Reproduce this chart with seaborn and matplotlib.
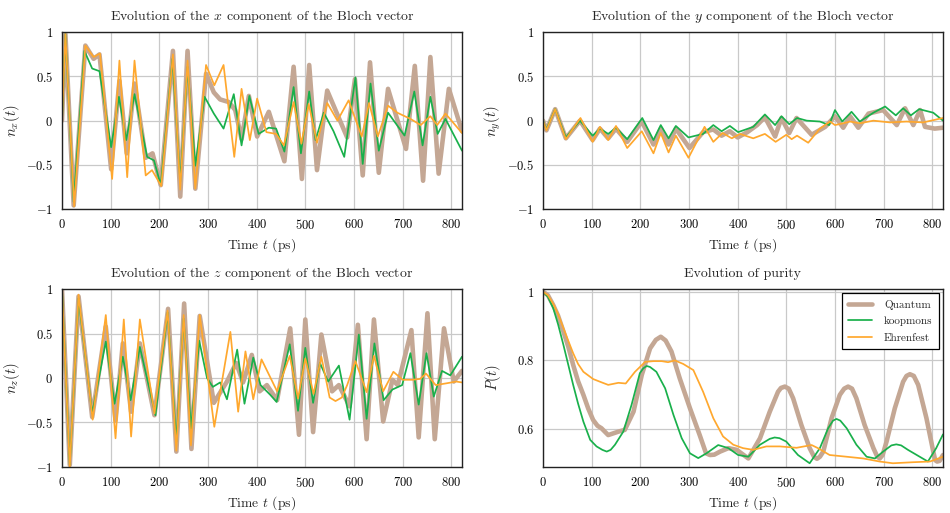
import matplotlib
matplotlib.use('Agg')
import matplotlib.pyplot as plt
import seaborn as sns
import pandas as pd

# ---- data (time in ps) ----
# n_x component
nx_quantum_t = [0, 7, 24, 48, 65, 77, 101, 118, 133, 149, 172, 186, 203, 228, 243, 258, 274, 296, 312, 325,
                343, 356, 369, 384, 401, 425, 457, 476, 493, 508, 524, 545, 586, 602, 618, 633, 651, 670,
                707, 725, 742, 757, 774, 795, 822]
nx_quantum_v = [0, 0.98, -0.96, 0.85, 0.70, 0.75, -0.55, 0.45, -0.37, 0.42, -0.42, -0.37, -0.73, 0.79, -0.86,
                0.79, -0.77, 0.53, 0.32, 0.24, 0.21, 0.12, -0.21, 0.28, -0.18, 0.10, -0.46, 0.61, -0.66, 0.63,
                -0.56, 0.34, -0.19, 0.47, -0.62, 0.66, -0.59, 0.36, -0.32, 0.62, -0.68, 0.72, -0.60, 0.36, -0.12]
nx_koop_t = [0, 7, 24, 46, 62, 77, 101, 117, 132, 149, 175, 189, 203, 227, 243, 258, 274, 293, 312, 332, 353,
             369, 385, 404, 425, 440, 457, 476, 491, 508, 521, 538, 558, 580, 603, 618, 634, 651, 670, 704,
             724, 741, 757, 772, 788, 822]
nx_koop_v = [0, 0.98, -0.92, 0.79, 0.59, 0.56, -0.30, 0.27, -0.22, 0.30, -0.41, -0.45, -0.73, 0.70, -0.69,
             0.61, -0.51, 0.27, 0.08, -0.09, 0.30, -0.28, 0.28, -0.15, -0.08, -0.09, -0.35, 0.38, -0.37, 0.33,
             -0.22, 0.09, -0.12, -0.41, 0.49, -0.49, 0.42, -0.34, 0.09, -0.17, 0.33, -0.28, 0.27, -0.15, 0.02,
             -0.34]
nx_ehr_t = [0, 7, 25, 48, 65, 78, 103, 118, 134, 149, 172, 185, 204, 228, 243, 258, 274, 296, 313, 332, 354,
            369, 386, 401, 420, 440, 456, 476, 492, 507, 524, 545, 566, 589, 616, 631, 649, 670, 689, 716, 737,
            757, 771, 788, 822]
nx_ehr_v = [0, 0.98, -0.97, 0.85, 0.72, 0.76, -0.66, 0.68, -0.64, 0.68, -0.62, -0.56, -0.74, 0.75, -0.78,
            0.68, -0.77, 0.63, 0.40, 0.63, -0.41, 0.36, -0.22, 0.25, -0.13, -0.15, -0.28, 0.21, -0.26, 0.19,
            -0.25, 0.20, 0.0, 0.23, -0.18, 0.20, -0.18, 0.17, 0.09, 0.02, -0.05, 0.05, -0.05, 0.08, -0.14]

# n_y component
ny_quantum_t = [0, 7, 25, 47, 76, 102, 117, 134, 150, 173, 203, 227, 242, 258, 273, 301, 329, 350, 367, 384,
                400, 420, 440, 456, 477, 490, 506, 521, 552, 580, 600, 617, 631, 648, 669, 699, 727, 744, 761,
                775, 785, 805, 822]
ny_quantum_v = [0, -0.11, 0.13, -0.20, 0.0, -0.22, -0.09, -0.20, -0.09, -0.24, -0.01, -0.27, -0.09, -0.27,
                -0.09, -0.31, -0.13, -0.10, -0.17, -0.12, -0.19, -0.13, -0.05, 0.04, -0.18, 0.03, -0.14, 0.03,
                -0.16, -0.07, 0.05, -0.08, 0.05, -0.08, 0.08, 0.12, -0.05, 0.14, -0.05, 0.12, -0.07, -0.09,
                -0.08]
ny_koop_t = [0, 7, 25, 47, 76, 102, 117, 134, 150, 173, 204, 227, 242, 258, 273, 299, 329, 350, 367, 384, 401,
             432, 456, 477, 490, 506, 522, 542, 569, 588, 600, 615, 634, 651, 679, 703, 725, 740, 756, 773, 802,
             822]
ny_koop_v = [0, -0.10, 0.13, -0.19, 0.0, -0.17, -0.09, -0.15, -0.08, -0.21, 0.03, -0.22, -0.05, -0.20, -0.06,
             -0.19, -0.15, -0.05, -0.12, -0.06, -0.13, -0.07, 0.07, -0.05, 0.05, -0.04, 0.03, 0.0, -0.01, -0.05,
             0.12, -0.01, 0.10, -0.01, 0.09, 0.16, 0.06, 0.14, 0.06, 0.13, 0.09, 0.0]
ny_ehr_t = [0, 7, 25, 47, 77, 102, 117, 134, 150, 173, 203, 227, 242, 258, 273, 299, 316, 332, 350, 369, 388,
            405, 432, 456, 478, 500, 511, 522, 545, 569, 590, 600, 617, 631, 651, 679, 713, 747, 781, 822]
ny_ehr_v = [0, -0.11, 0.13, -0.21, 0.03, -0.24, -0.07, -0.22, -0.06, -0.31, -0.12, -0.37, -0.14, -0.36, -0.17,
            -0.42, -0.24, -0.07, -0.24, -0.14, -0.20, -0.15, -0.20, -0.15, -0.24, -0.16, -0.21, -0.17, -0.25,
            -0.09, -0.01, -0.05, -0.03, -0.01, -0.03, 0.0, -0.02, -0.01, -0.02, 0.03]

# n_z component
nz_quantum_t = [0, 16, 34, 62, 90, 110, 125, 142, 160, 190, 218, 235, 251, 266, 283, 312, 339, 358, 372, 390,
                406, 421, 442, 469, 487, 500, 516, 533, 555, 569, 591, 608, 626, 641, 660, 679, 690, 718, 733,
                751, 766, 785, 805, 822]
nz_quantum_v = [1.0, -0.98, 0.92, -0.44, 0.58, -0.48, 0.39, -0.38, 0.39, -0.42, 0.78, -0.83, 0.84, -0.80, 0.70,
                -0.28, -0.04, 0.17, -0.05, 0.26, -0.15, -0.08, -0.25, 0.56, -0.64, 0.66, -0.61, 0.49, -0.15,
                -0.08, -0.32, 0.60, -0.69, 0.66, -0.49, -0.02, -0.08, 0.54, -0.67, 0.73, -0.69, 0.56, -0.04, 0.08]
nz_koop_t = [0, 16, 34, 62, 90, 108, 125, 141, 160, 192, 217, 235, 250, 265, 282, 298, 310, 325, 339, 360, 375,
             393, 408, 428, 441, 468, 485, 500, 516, 530, 547, 569, 591, 610, 626, 642, 661, 679, 699, 716, 733,
             749, 764, 781, 798, 822]
nz_koop_v = [1.0, -0.98, 0.90, -0.40, 0.41, -0.29, 0.24, -0.25, 0.35, -0.42, 0.74, -0.72, 0.67, -0.57, 0.42,
             0.0, -0.10, -0.05, -0.24, 0.32, -0.29, 0.23, -0.08, -0.19, -0.27, 0.38, -0.37, 0.34, -0.28, 0.17,
             -0.04, 0.14, -0.47, 0.49, -0.46, 0.39, -0.25, -0.13, -0.08, 0.28, -0.30, 0.28, -0.21, 0.08, 0.03,
             0.24]
nz_ehr_t = [0, 16, 34, 63, 90, 110, 127, 142, 160, 190, 217, 235, 250, 265, 283, 313, 346, 362, 377, 393, 410,
            442, 468, 485, 500, 517, 533, 550, 562, 575, 586, 603, 626, 641, 660, 681, 700, 720, 736, 748, 768,
            790, 810, 822]
nz_ehr_v = [1.0, -1.0, 0.94, -0.47, 0.71, -0.68, 0.66, -0.66, 0.66, -0.40, 0.76, -0.82, 0.71, -0.76, 0.71,
            -0.55, 0.52, -0.38, 0.30, -0.24, 0.21, -0.15, 0.25, -0.23, 0.22, -0.18, 0.24, -0.22, -0.26, -0.22,
            -0.08, 0.19, -0.16, 0.25, -0.15, 0.07, -0.02, -0.02, -0.01, 0.05, -0.08, -0.06, -0.04, -0.05]

# purity
p_quantum_t = [0, 10, 21, 31, 42, 52, 62, 72, 83, 93, 103, 112, 120, 134, 155, 168, 186, 203, 220, 232, 242,
               252, 264, 281, 302, 322, 335, 343, 352, 364, 381, 398, 422, 446, 466, 483, 489, 497, 505, 514,
               531, 548, 557, 563, 569, 576, 593, 610, 619, 627, 635, 644, 661, 679, 687, 692, 698, 706, 723,
               740, 747, 754, 762, 771, 788, 802, 806, 810, 815, 822]
p_quantum_v = [1.0, 0.99, 0.961, 0.93, 0.884, 0.84, 0.787, 0.74, 0.70, 0.66, 0.627, 0.61, 0.603, 0.583, 0.593,
               0.598, 0.651, 0.758, 0.835, 0.86, 0.869, 0.858, 0.826, 0.748, 0.661, 0.583, 0.53, 0.525, 0.526,
               0.535, 0.545, 0.540, 0.515, 0.574, 0.651, 0.709, 0.72, 0.724, 0.718, 0.69, 0.612, 0.545, 0.52,
               0.514, 0.52, 0.535, 0.632, 0.70, 0.718, 0.724, 0.718, 0.69, 0.612, 0.545, 0.52, 0.515, 0.525,
               0.564, 0.661, 0.738, 0.755, 0.76, 0.755, 0.729, 0.632, 0.535, 0.51, 0.506, 0.508, 0.525]
p_koop_t = [0, 10, 21, 31, 42, 52, 62, 72, 83, 97, 110, 122, 131, 139, 148, 165, 182, 199, 206, 213, 220, 233,
            251, 268, 285, 302, 319, 336, 360, 381, 401, 422, 446, 466, 476, 486, 500, 524, 548, 569, 586, 596,
            603, 611, 624, 644, 665, 682, 699, 716, 726, 736, 750, 791, 808, 822]
p_koop_v = [1.0, 0.985, 0.952, 0.905, 0.845, 0.787, 0.729, 0.675, 0.622, 0.569, 0.55, 0.54, 0.535, 0.54, 0.555,
            0.593, 0.671, 0.763, 0.777, 0.784, 0.781, 0.767, 0.719, 0.642, 0.574, 0.53, 0.516, 0.53, 0.554,
            0.545, 0.525, 0.52, 0.555, 0.572, 0.576, 0.574, 0.564, 0.525, 0.501, 0.545, 0.603, 0.625, 0.63,
            0.625, 0.603, 0.555, 0.52, 0.515, 0.535, 0.553, 0.556, 0.553, 0.54, 0.506, 0.545, 0.585]
p_ehr_t = [0, 10, 21, 31, 42, 52, 62, 72, 83, 103, 121, 134, 155, 170, 189, 210, 227, 244, 257, 271, 288, 309,
           329, 350, 370, 391, 411, 432, 459, 487, 521, 552, 565, 589, 624, 658, 692, 719, 760, 795, 822]
p_ehr_v = [1.0, 0.99, 0.965, 0.935, 0.894, 0.857, 0.821, 0.79, 0.767, 0.746, 0.736, 0.729, 0.735, 0.733, 0.767,
           0.796, 0.798, 0.798, 0.795, 0.80, 0.79, 0.772, 0.709, 0.632, 0.579, 0.555, 0.545, 0.54, 0.55, 0.55,
           0.546, 0.554, 0.545, 0.525, 0.52, 0.515, 0.506, 0.501, 0.504, 0.506, 0.52]

methods = ['Quantum', 'koopmons', 'Ehrenfest']
colors = {'Quantum': '#C4A794', 'koopmons': '#19B04B', 'Ehrenfest': '#FFA82E'}
widths = {'Quantum': 3.3, 'koopmons': 1.25, 'Ehrenfest': 1.25}

sns.set_style('whitegrid', rc={'grid.color': '#C9C9C9', 'axes.edgecolor': '#222222'})
plt.rcParams['font.family'] = ['cmr10', 'DejaVu Serif']
plt.rcParams['mathtext.fontset'] = 'cm'
plt.rcParams['axes.unicode_minus'] = False
plt.rcParams['lines.solid_joinstyle'] = 'round'
plt.rcParams['lines.solid_capstyle'] = 'round'

fig = plt.figure(figsize=(9.5, 5.13), dpi=100)
W, H = 950, 513


def make_ax(left, top, right, bottom):
    return fig.add_axes([left / W, 1 - bottom / H, (right - left) / W, (bottom - top) / H])


panels = [
    (make_ax(62, 32.3, 462, 209), 'Evolution of the $x$ component of the Bloch vector', '$n_x(t)$',
     [(nx_quantum_t, nx_quantum_v), (nx_koop_t, nx_koop_v), (nx_ehr_t, nx_ehr_v)]),
    (make_ax(543, 32.3, 943, 209), 'Evolution of the $y$ component of the Bloch vector', '$n_y(t)$',
     [(ny_quantum_t, ny_quantum_v), (ny_koop_t, ny_koop_v), (ny_ehr_t, ny_ehr_v)]),
    (make_ax(62, 289.3, 462, 466.7), 'Evolution of the $z$ component of the Bloch vector', '$n_z(t)$',
     [(nz_quantum_t, nz_quantum_v), (nz_koop_t, nz_koop_v), (nz_ehr_t, nz_ehr_v)]),
    (make_ax(543, 289.3, 943, 466.7), 'Evolution of purity', '$P(t)$',
     [(p_quantum_t, p_quantum_v), (p_koop_t, p_koop_v), (p_ehr_t, p_ehr_v)]),
]

xticks = [0, 100, 200, 300, 400, 500, 600, 700, 800]

for i, (ax, title, ylab, series) in enumerate(panels):
    for name, (t, v) in zip(methods, series):
        df = pd.DataFrame({'t': t, 'v': v})
        sns.lineplot(data=df, x='t', y='v', ax=ax, color=colors[name], linewidth=widths[name],
                     label=name, estimator=None, legend=False)
    ax.set_xlim(0, 822)
    ax.set_xticks(xticks)
    ax.set_xticklabels([f'${x}$' for x in xticks])
    if i < 3:
        ax.set_ylim(-1, 1)
        ax.set_yticks([-1, -0.5, 0, 0.5, 1])
        ax.set_yticklabels(['$-1$', '$-0.5$', '$0$', '$0.5$', '$1$'])
    else:
        ax.set_ylim(0.491, 1.007)
        ax.set_yticks([0.6, 0.8, 1.0])
        ax.set_yticklabels(['$0.6$', '$0.8$', '$1$'])
    ax.tick_params(labelsize=9, colors='black', pad=3)
    ax.set_title(title, fontsize=10, pad=9)
    ax.set_xlabel('Time $t$ (ps)', fontsize=9.8, labelpad=3)
    ax.set_ylabel(ylab, fontsize=10.5)
    ax.yaxis.set_label_coords(-0.10, 0.5)
    ax.grid(True, linewidth=0.9)
    for sp in ax.spines.values():
        sp.set_linewidth(1.0)
        sp.set_color('#222222')

leg_ax = panels[3][0]
leg = leg_ax.legend(loc='upper right', fontsize=8, frameon=True, fancybox=False, edgecolor='black',
                    framealpha=1, handlelength=2.1, borderaxespad=0.35, labelspacing=0.6,
                    handletextpad=1.1, borderpad=0.6)
leg.get_frame().set_linewidth(0.9)

fig.savefig('out.png', dpi=100)
